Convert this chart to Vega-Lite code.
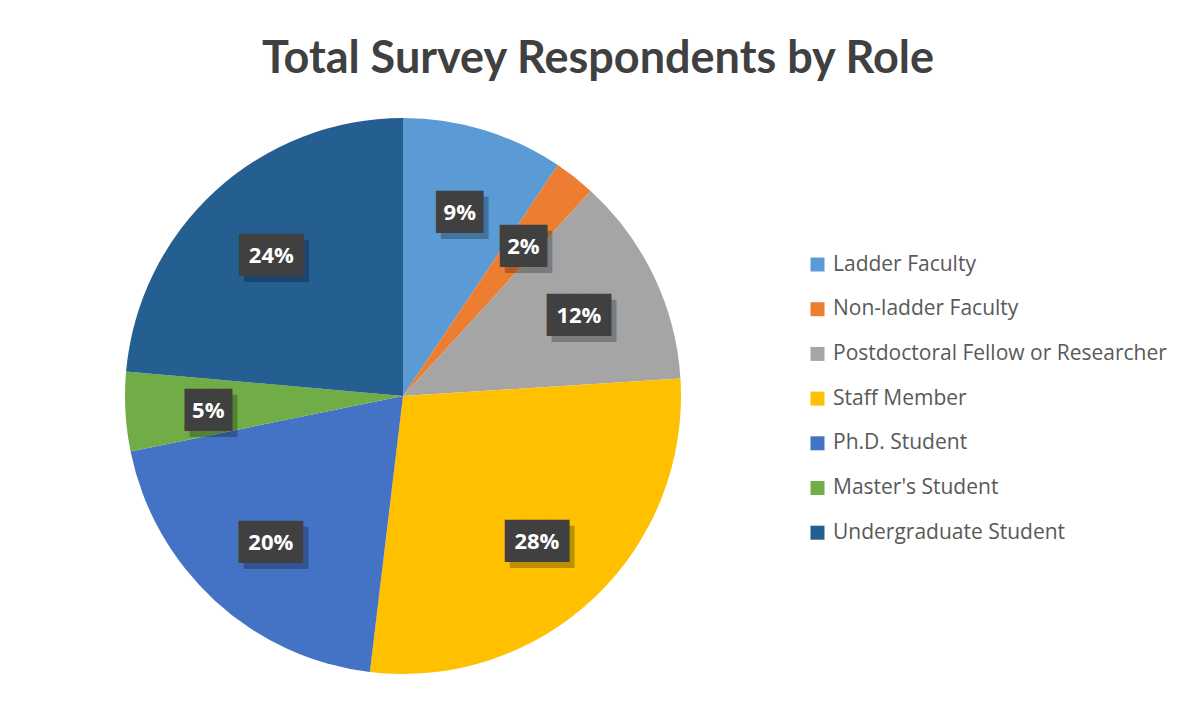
{
  "$schema": "https://vega.github.io/schema/vega-lite/v6.json",
  "width": 806,
  "height": 572,
  "autosize": {"type": "none"},
  "padding": {"left": 0, "top": 110, "right": 380, "bottom": 20},
  "background": "white",
  "title": {
    "text": "Total Survey Respondents by Role",
    "anchor": "middle",
    "frame": "group",
    "dx": 195,
    "offset": -8,
    "baseline": "alphabetic",
    "font": "Lato",
    "fontSize": 45,
    "fontWeight": "bold",
    "color": "#404040"
  },
  "data": {
    "values": [
      {"idx": 1, "role": "Ladder Faculty", "value": 0.094},
      {"idx": 2, "role": "Non-ladder Faculty", "value": 0.024},
      {"idx": 3, "role": "Postdoctoral Fellow or Researcher", "value": 0.122},
      {"idx": 4, "role": "Staff Member", "value": 0.279},
      {"idx": 5, "role": "Ph.D. Student", "value": 0.199},
      {"idx": 6, "role": "Master's Student", "value": 0.046},
      {"idx": 7, "role": "Undergraduate Student", "value": 0.236}
    ]
  },
  "encoding": {
    "theta": {"field": "value", "type": "quantitative", "stack": true},
    "order": {"field": "idx", "type": "quantitative"}
  },
  "layer": [
    {
      "mark": {"type": "arc", "outerRadius": 278},
      "encoding": {
        "color": {
          "field": "role",
          "type": "nominal",
          "scale": {
            "domain": ["Ladder Faculty", "Non-ladder Faculty", "Postdoctoral Fellow or Researcher", "Staff Member", "Ph.D. Student", "Master's Student", "Undergraduate Student"],
            "range": ["#5B9BD5", "#ED7D31", "#A5A5A5", "#FFC000", "#4472C4", "#70AD47", "#255E91"]
          },
          "legend": {
            "orient": "none",
            "legendX": 807,
            "legendY": 144,
            "title": null,
            "symbolType": "square",
            "symbolSize": 196,
            "symbolStrokeWidth": 0,
            "labelFont": "Open Sans",
            "labelFontSize": 21,
            "labelColor": "#595959",
            "labelOffset": 5,
            "rowPadding": 22.7,
            "padding": 0,
            "labelLimit": 400
          }
        }
      }
    },
    {
      "mark": {"type": "text", "radius": 195, "font": "DejaVu Sans Mono", "fontSize": 35.5, "fill": "#000000", "opacity": 0.25, "dx": 5, "dy": 10, "baseline": "middle", "align": "center"},
      "encoding": {
        "text": {"condition": {"test": "datum.value >= 0.095", "value": "███"}, "value": "▕██▏"}
      }
    },
    {
      "mark": {"type": "text", "radius": 195, "font": "DejaVu Sans Mono", "fontSize": 35.5, "fill": "#404040", "dy": 4, "baseline": "middle", "align": "center"},
      "encoding": {
        "text": {"condition": {"test": "datum.value >= 0.095", "value": "███"}, "value": "▕██▏"}
      }
    },
    {
      "mark": {"type": "text", "radius": 195, "font": "Open Sans", "fontSize": 22, "fontWeight": "bold", "fill": "white", "dy": 4, "baseline": "middle", "align": "center"},
      "encoding": {
        "text": {"field": "value", "type": "quantitative", "format": ".0%"}
      }
    }
  ],
  "config": {"view": {"stroke": null}}
}
